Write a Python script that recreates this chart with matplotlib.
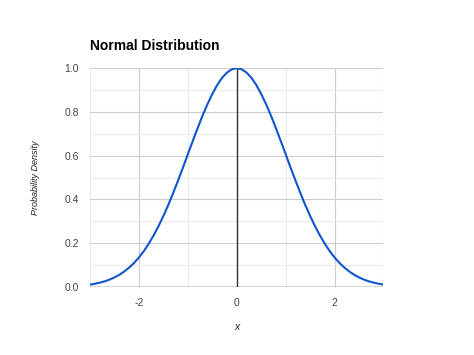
import matplotlib
matplotlib.use("Agg")
import matplotlib.pyplot as plt
from matplotlib.ticker import MultipleLocator

plt.rcParams["font.family"] = ["Liberation Sans", "DejaVu Sans"]

half_x = [0.0, 0.1, 0.2, 0.3, 0.4, 0.5, 0.6, 0.7, 0.8, 0.9, 1.0,
          1.1, 1.2, 1.3, 1.4, 1.5, 1.6, 1.7, 1.8, 1.9, 2.0,
          2.1, 2.2, 2.3, 2.4, 2.5, 2.6, 2.7, 2.8, 2.9, 3.0]
half_density = [1.000, 0.995, 0.980, 0.956, 0.923, 0.882, 0.835, 0.783, 0.726, 0.667, 0.607,
                0.546, 0.487, 0.430, 0.375, 0.325, 0.278, 0.236, 0.198, 0.164, 0.135,
                0.110, 0.089, 0.071, 0.056, 0.044, 0.034, 0.026, 0.020, 0.015, 0.011]
# symmetric curve: left half mirrored from the right half
x_vals = [-v for v in half_x[:0:-1]] + half_x
density = half_density[:0:-1] + half_density

x_ticks = [-2, 0, 2]
x_tick_labels = ["-2", "0", "2"]
y_ticks = [0.0, 0.2, 0.4, 0.6, 0.8, 1.0]
y_tick_labels = ["0.0", "0.2", "0.4", "0.6", "0.8", "1.0"]

fig = plt.figure(figsize=(4.74, 3.55), dpi=100)
ax = fig.add_axes([0.190, 0.1915, 0.619, 0.6165])

ax.set_xlim(-3, 3)
ax.set_ylim(0, 1.0)
ax.set_xticks(x_ticks)
ax.set_xticklabels(x_tick_labels)
ax.set_yticks(y_ticks)
ax.set_yticklabels(y_tick_labels)
ax.xaxis.set_minor_locator(MultipleLocator(1))
ax.yaxis.set_minor_locator(MultipleLocator(0.1))

ax.grid(True, which="major", color="#cccccc", linewidth=0.8)
ax.grid(True, which="minor", color="#ebebeb", linewidth=0.8)
ax.set_axisbelow(True)
for s in ax.spines.values():
    s.set_visible(False)
ax.tick_params(which="both", length=0, labelsize=7.5, labelcolor="#444444")
ax.tick_params(axis="x", pad=8)
ax.tick_params(axis="y", pad=8)

ax.axhline(0, color="#333333", linewidth=1.0, zorder=2)
ax.axvline(0, color="#333333", linewidth=1.0, zorder=2)

ax.plot(x_vals, density, color="#1155cc", linewidth=1.5, zorder=3,
        solid_joinstyle="round")

fig.text(90/474, 1-46/355, "Normal Distribution", fontsize=10, fontweight="bold",
         ha="left", va="center", color="#000000")
fig.text(35/474, 1-178/355, "Probability Density", fontsize=6.5, style="italic",
         rotation=90, ha="center", va="center", color="#222222")
fig.text(237/474, 1-327/355, "x", fontsize=7.5, style="italic",
         ha="center", va="center", color="#222222")

fig.savefig("out.png", dpi=100)
